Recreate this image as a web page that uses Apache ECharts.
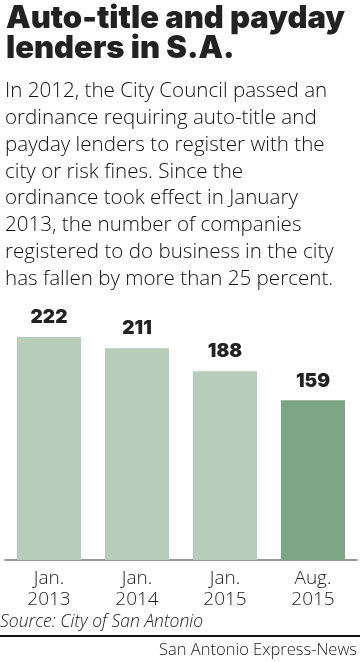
<!DOCTYPE html>
<html>
<head>
<meta charset="utf-8">
<script src="https://cdn.jsdelivr.net/npm/echarts@6/dist/echarts.min.js"></script>
<style>
html,body{margin:0;padding:0;background:#fff;}
#chart{width:360px;height:662px;}
</style>
</head>
<body>
<div id="chart"></div>
<script>
const titleLines = ["Auto-title and payday", "lenders in S.A."];
const bodyLines = [
  "In 2012, the City Council passed an",
  "ordinance requiring auto-title and",
  "payday lenders to register with the",
  "city or risk fines. Since the",
  "ordinance took effect in January",
  "2013, the number of companies",
  "registered to do business in the city",
  "has fallen by more than 25 percent."
];
const categories = ["Jan.\n2013", "Jan.\n2014", "Jan.\n2015", "Aug.\n2015"];
const values = [222, 211, 188, 159];
const sourceText = "Source: City of San Antonio";
const creditText = "San Antonio Express-News";

const chart = echarts.init(document.getElementById('chart'), null, {renderer: 'canvas'});
const barColors = ['#b7cdb9', '#b7cdb9', '#b7cdb9', '#7da686'];

chart.setOption({
  animation: false,
  backgroundColor: '#fff',
  title: [
    {
      text: titleLines.join('\n'),
      left: 1, top: -2,
      textStyle: {fontFamily: 'Inter', fontWeight: 900, fontSize: 31, lineHeight: 30.5, color: '#222'}
    },
    {
      text: bodyLines.join('\n'),
      left: 0, top: 73,
      textStyle: {fontFamily: 'Open Sans', fontWeight: 300, fontSize: 20.6, lineHeight: 26.8, color: '#111'}
    }
  ],
  grid: {left: 5, right: 3, top: 309, bottom: 102, containLabel: false},
  xAxis: {
    type: 'category',
    data: categories,
    axisLine: {lineStyle: {color: '#999', width: 2}},
    axisTick: {show: false},
    axisLabel: {fontFamily: 'Open Sans', fontWeight: 300, fontSize: 19, lineHeight: 21, color: '#222', margin: 8}
  },
  yAxis: {
    type: 'value', min: 0, max: 250,
    show: false, splitLine: {show: false}
  },
  series: [{
    type: 'bar',
    barWidth: 64,
    data: values.map((v, i) => ({value: v, itemStyle: {color: barColors[i]}})),
    label: {
      show: true, position: 'top', distance: 10,
      fontFamily: 'Inter', fontWeight: 900, fontSize: 19, color: '#222'
    }
  }],
  graphic: [
    {type: 'text', left: 0, top: 613, style: {text: sourceText, fontFamily: 'Open Sans', fontStyle: 'italic', fontWeight: 300, fontSize: 17.5, fill: '#222'}},
    {type: 'rect', shape: {x: 0, y: 635, width: 360, height: 2}, style: {fill: '#111'}},
    {type: 'text', right: 3, top: 642, style: {text: creditText, fontFamily: 'Open Sans', fontWeight: 300, fontSize: 16.5, fill: '#222'}}
  ]
});
</script>
</body>
</html>
